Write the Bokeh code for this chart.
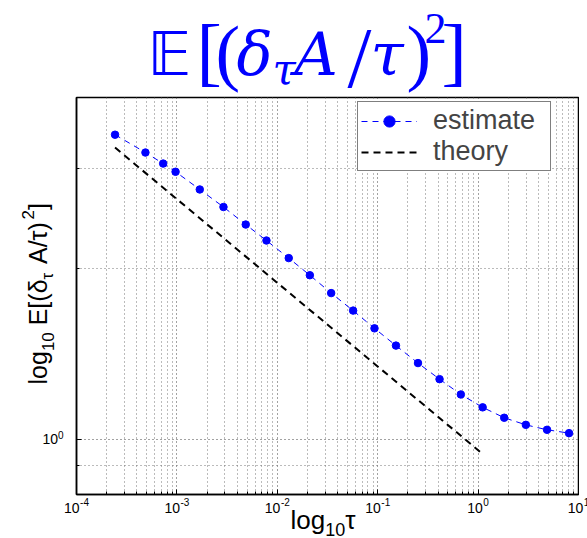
import math
from bokeh.plotting import figure
from bokeh.layouts import row, column
from bokeh.models import (FixedTicker, Label, LabelSet, ColumnDataSource, Legend,
                          LegendItem, CustomJSTickFormatter, Range1d)
from bokeh.embed import file_html
from bokeh.resources import INLINE
from bokeh.core.properties import value

# ---------------- data ----------------
tau = [2.42e-4, 4.86e-4, 7.3e-4, 9.7e-4, 1.69e-3, 2.91e-3, 4.85e-3, 7.8e-3,
       0.0130, 0.0211, 0.0344, 0.0569, 0.0929, 0.152, 0.252, 0.413, 0.673,
       1.11, 1.82, 2.99, 4.86, 8.05]
estimate = [3.44, 3.20, 3.06, 2.96, 2.755, 2.566, 2.390, 2.240, 2.086, 1.946,
            1.810, 1.686, 1.569, 1.463, 1.363, 1.277, 1.200, 1.139, 1.092,
            1.061, 1.040, 1.026]
theory_tau = [2.42e-4, 1.11]
theory = [3.265, 0.943]

x_major_ticks = [1e-4, 1e-3, 1e-2, 1e-1, 1e0, 1e1]
x_tick_exponents = ["-4", "-3", "-2", "-1", "0", "1"]
x_minor_ticks = [k * 10.0 ** e for e in range(-4, 1) for k in range(2, 10)]
y_major_ticks = [1]
y_tick_exponents = ["0"]
y_minor_ticks = [0.8, 0.9, 2, 3, 4]

# ---------------- geometry ----------------
FW, FH = 502, 397          # plot frame size
YW = 66                    # width of left strip (y label)
TH = 95                    # height of title strip
XH = 42                    # height of bottom strip (x tick labels + x label)
XW = 587                   # width of bottom strip
LB, RB, TB, BB = 10, 1, 2, 2
MW = LB + FW + RB
MH = TB + FH + BB
DEC = FW / 5.0             # pixels per decade on x
KB = 0.24                  # baseline correction (fraction of font size)

common = dict(output_backend="svg", toolbar_location=None, title=None)

# ---------------- main plot ----------------
p = figure(width=MW, height=MH, x_axis_type="log", y_axis_type="log",
           x_range=Range1d(1e-4, 1e1), y_range=Range1d(0.8, 4),
           min_border_left=LB, min_border_right=RB, min_border_top=TB,
           min_border_bottom=BB, **common)
p.background_fill_color = "white"
p.border_fill_color = "white"
p.outline_line_color = "black"
p.outline_line_width = 1.5

p.xaxis.ticker = FixedTicker(ticks=x_major_ticks, minor_ticks=x_minor_ticks)
p.yaxis.ticker = FixedTicker(ticks=y_major_ticks, minor_ticks=y_minor_ticks)
for ax in (p.xaxis, p.yaxis):
    ax.formatter = CustomJSTickFormatter(code="return ''")
    ax.major_label_standoff = 0
    ax.major_tick_in = 5
    ax.major_tick_out = 0
    ax.minor_tick_in = 3
    ax.minor_tick_out = 0
    ax.axis_line_color = "black"
    ax.axis_line_width = 1.5
    ax.major_tick_line_color = "black"
    ax.minor_tick_line_color = "black"

for g in (p.xgrid, p.ygrid):
    g.grid_line_color = "#444444"
    g.grid_line_dash = "1 3"
    g.grid_line_width = 1
    g.minor_grid_line_color = "#777777"
    g.minor_grid_line_dash = "1 3"
    g.minor_grid_line_width = 1

est_line = p.line(tau, estimate, line_color="#0000ff", line_width=1, line_dash="6 5")
est_pts = p.scatter(tau, estimate, size=7.5, fill_color="#0000ff", line_color="#0000ff")
th_line = p.line(theory_tau, theory, line_color="black", line_width=2, line_dash="7 5")

legend = Legend(items=[LegendItem(label="estimate", renderers=[est_line, est_pts]),
                       LegendItem(label="theory", renderers=[th_line])],
                location=(281, 323), border_line_color="black", border_line_width=1.5,
                background_fill_color="white", background_fill_alpha=1.0,
                padding=3, spacing=0, margin=0, glyph_width=56, glyph_height=28,
                label_height=28, label_standoff=16, label_width=114,
                label_text_font="Liberation Sans", label_text_font_size="27px")
p.add_layout(legend)


def lab(fig, x, y, text, size, font="Liberation Sans", style="normal", color="black",
        angle=0.0, y_units="screen", baseline="alphabetic"):
    if baseline == "alphabetic":
        if angle == 0.0:
            y = y + KB * size
        else:
            x = x - KB * size
    fig.add_layout(Label(x=x, y=y, x_units="screen", y_units=y_units, text=text,
                         text_font=font, text_font_size=f"{size}px", text_font_style=style,
                         text_color=color, angle=angle, text_align="left",
                         text_baseline=baseline, text_line_height=1.0))


def strip(width, height, **kw):
    f = figure(width=width, height=height, x_axis_location=None, y_axis_location=None,
               min_border_left=0, min_border_right=0, min_border_top=kw.pop("top", 0),
               min_border_bottom=kw.pop("bottom", 0), **kw, **common)
    f.outline_line_color = None
    f.background_fill_color = "white"
    f.border_fill_color = "white"
    f.grid.visible = False
    return f

# ---------------- title strip ----------------
tfig = strip(MW, TH, x_range=Range1d(0, 1), y_range=Range1d(0, 1))
B = "#0000ff"
SERIF = "Liberation Serif"
ITAL = "DejaVu Serif"
lab(tfig, 71.0, 27.5, "𝔼", 60, font="DejaVu Sans", color=B)
lab(tfig, 120.0, 26.0, "[", 76, font=SERIF, color=B)
lab(tfig, 139.0, 25.5, "(", 74, font=SERIF, color=B)
lab(tfig, 160.0, 27.5, "δ", 60, font=ITAL, style="italic", color=B)
lab(tfig, 196.0, 16.0, "τ", 42, font=ITAL, style="italic", color=B)
lab(tfig, 218.0, 27.5, "A", 60, font=ITAL, style="italic", color=B)
lab(tfig, 271.0, 17.0, "/", 86, font=SERIF, color=B)
lab(tfig, 294.0, 27.5, "τ", 60, font=ITAL, style="italic", color=B)
lab(tfig, 330.0, 25.5, ")", 74, font=SERIF, color=B)
lab(tfig, 348.0, 56.0, "2", 44, font=SERIF, color=B)
lab(tfig, 365.0, 26.0, "]", 76, font=SERIF, color=B)

# ---------------- left strip: y label and y tick label ----------------
yfig = strip(YW, TH + MH, y_axis_type="log", y_range=p.y_range, x_range=Range1d(0, 1),
             top=TH + TB, bottom=BB)
for yt, ye in zip(y_major_ticks, y_tick_exponents):
    lab(yfig, 42.0, yt, "10", 14, y_units="data", baseline="middle")
    lab(yfig, 57.5, yt, ye, 10, y_units="data", baseline="bottom")

ya = math.pi / 2
y0 = 110
lab(yfig, 43.3, y0 + 0.0, "log", 25, angle=ya)
lab(yfig, 51.5, y0 + 33.4, "10", 17, angle=ya)
lab(yfig, 43.3, y0 + 59.2, "E[(δ", 25, angle=ya)
lab(yfig, 51.5, y0 + 105.1, "τ", 17, angle=ya)
lab(yfig, 43.3, y0 + 120.5, "A/τ)", 25, angle=ya)
lab(yfig, 31.7, y0 + 165.0, "2", 17, angle=ya)
lab(yfig, 43.3, y0 + 174.4, "]", 25, angle=ya)

# ---------------- bottom strip: x tick labels and x label ----------------
x_lo = 10 ** (-4 - (YW + LB) / DEC)
x_hi = 10 ** (1 + (XW - YW - LB - FW) / DEC)
xfig = strip(XW, XH, x_axis_type="log", x_range=Range1d(x_lo, x_hi),
             y_range=Range1d(0, 1))
w10, wdig, wminus, gap = 15.6, 5.6, 3.3, 0.5
tot = [w10 + gap + sum(wminus if c == "-" else wdig for c in e) for e in x_tick_exponents]
base_off = [-t / 2 for t in tot]
exp_off = [b + w10 + gap for b in base_off]
tsrc = ColumnDataSource(dict(x=x_major_ticks, base=["10"] * len(x_major_ticks),
                             exp=x_tick_exponents, base_off=base_off, exp_off=exp_off))
xfig.add_layout(LabelSet(x="x", y=22 + KB * 14, x_units="data", y_units="screen",
                         text="base", x_offset="base_off", source=tsrc,
                         text_font=value("Liberation Sans"), text_font_size="14px",
                         text_align="left", text_baseline="alphabetic",
                         text_line_height=1.0, text_color="black"))
xfig.add_layout(LabelSet(x="x", y=30.5 + KB * 10, x_units="data", y_units="screen",
                         text="exp", x_offset="exp_off", source=tsrc,
                         text_font=value("Liberation Sans"), text_font_size="10px",
                         text_align="left", text_baseline="alphabetic",
                         text_line_height=1.0, text_color="black"))
lab(xfig, 290.0, 12.0, "log", 26)
lab(xfig, 324.7, 5.0, "10", 18)
lab(xfig, 344.7, 12.0, "τ", 26)

layout = column(row(yfig, column(tfig, p, spacing=0), spacing=0), xfig, spacing=0)
open("out.html", "w").write(file_html(layout, INLINE))
